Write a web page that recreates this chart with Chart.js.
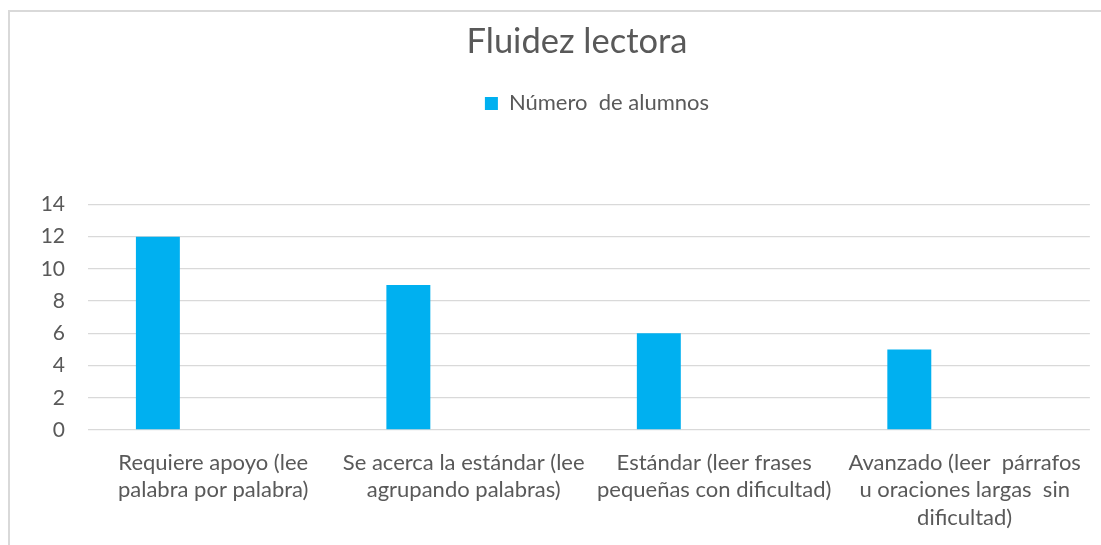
<!DOCTYPE html>
<html>
<head>
<meta charset="utf-8">
<script src="https://cdn.jsdelivr.net/npm/chart.js@4"></script>
<style>
  html, body { margin: 0; padding: 0; background: #fff; overflow: hidden; }
  #frame {
    position: absolute; left: 8px; top: 10px; width: 1200px; height: 600px;
    border-left: 2px solid #d9d9d9; border-top: 2px solid #d9d9d9;
  }
  #chart { position: absolute; left: 0; top: 0; }
</style>
</head>
<body>
<div id="frame"></div>
<canvas id="chart" width="1101" height="545"></canvas>
<script>
// data
const categorias = [
  ['Requiere apoyo (lee', 'palabra por palabra)'],
  ['Se acerca la estándar (lee', 'agrupando palabras)'],
  ['Estándar (leer frases', 'pequeñas con dificultad)'],
  ['Avanzado (leer  párrafos', 'u oraciones largas  sin', 'dificultad)']
];
const alumnos = [12, 9, 6, 5];
const serieVacia = [];   // second (empty) series of the original sheet
const ticksY = [0, 2, 4, 6, 8, 10, 12, 14];

const gris = '#595959';
const fuente = 'Lato';

// the original chart is wider than the visible crop, so title/legend sit right of canvas centre
const desplazarCabecera = {
  id: 'desplazarCabecera',
  afterLayout(chart) {
    if (chart.titleBlock) { chart.titleBlock.left += 31; chart.titleBlock.right += 31; }
    if (chart.legend) { chart.legend.left += 51; chart.legend.right += 51; }
  }
};

const ctx = document.getElementById('chart').getContext('2d');
const myChart = new Chart(ctx, {
  type: 'bar',
  data: {
    labels: categorias,
    datasets: [{
      label: 'Número  de alumnos',
      data: alumnos,
      backgroundColor: '#00B0F0',
      borderWidth: 0,
      categoryPercentage: 0.884,
      barPercentage: 0.397
    }, {
      label: '',
      data: serieVacia,
      backgroundColor: 'transparent',
      categoryPercentage: 0.884,
      barPercentage: 0.397
    }]
  },
  options: {
    responsive: false,
    animation: false,
    layout: { padding: { left: 0, right: 9, top: 0, bottom: 0 } },
    plugins: {
      title: {
        display: true,
        text: 'Fluidez lectora',
        color: gris,
        font: { family: fuente, size: 34.5, weight: 'normal', lineHeight: 1.2 },
        padding: { top: 21, bottom: 6 }
      },
      legend: {
        display: true,
        position: 'top',
        labels: {
          color: gris,
          font: { family: fuente, size: 22 },
          boxWidth: 13,
          boxHeight: 13,
          padding: 24,
          filter: (item) => item.datasetIndex === 0
        }
      },
      // empty spacer under the legend
      subtitle: {
        display: true,
        text: '',
        weight: 500,
        font: { size: 10, lineHeight: 1 },
        padding: { top: 0, bottom: 70 }
      },
      tooltip: { enabled: false }
    },
    scales: {
      x: {
        grid: { display: false, drawTicks: false },
        border: { display: false },
        ticks: {
          color: gris,
          font: { family: fuente, size: 22, lineHeight: 1.25 },
          padding: 19,
          maxRotation: 0,
          autoSkip: false
        },
        afterFit: (scale) => { scale.height = 115; }
      },
      y: {
        min: 0,
        max: 14,
        afterBuildTicks: (scale) => { scale.ticks = ticksY.map(v => ({ value: v })); },
        grid: { color: '#d9d9d9', lineWidth: 1.3, drawTicks: false },
        border: { display: false },
        ticks: {
          color: gris,
          font: { family: fuente, size: 21 },
          padding: 23
        },
        afterFit: (scale) => { scale.width = 88; }
      }
    }
  },
  plugins: [desplazarCabecera]
});
</script>
</body>
</html>
